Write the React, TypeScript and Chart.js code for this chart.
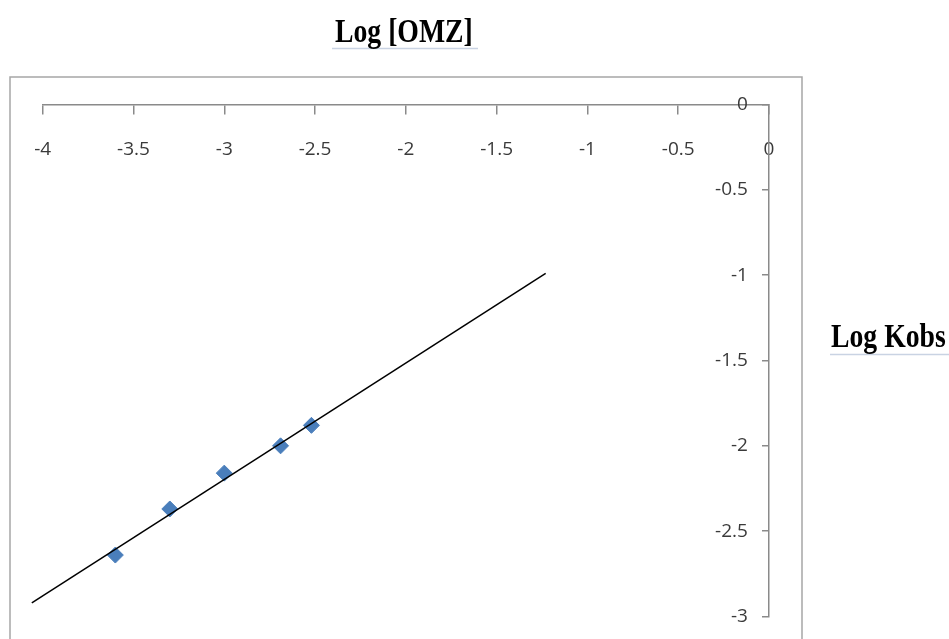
import React, { useEffect, useRef } from 'react';
import { Chart, registerables } from 'chart.js';

Chart.register(...registerables);

// ---- data ----
const logOMZ = [-3.6, -3.3, -3.0, -2.69, -2.52];
const logKobs = [-2.64, -2.37, -2.16, -2.0, -1.88];
const trendX = [-4.06, -1.23];
const trendY = [-2.92, -0.99];
const xTickValues = [-4, -3.5, -3, -2.5, -2, -1.5, -1, -0.5, 0];
const yTickValues = [0, -0.5, -1, -1.5, -2, -2.5, -3];
const xTitle = 'Log [OMZ]';
const yTitle = 'Log Kobs';

const AXIS_COLOR = '#8a8a8a';
const TICK_FONT = { family: '"Open Sans", "Liberation Sans", sans-serif', size: 19 };
const fmt = (v: any) => String(Number(v));
// y labels sit a little left of the y axis (in x-data units)
const Y_LABEL_X = -0.116;

const decorPlugin = {
  id: 'decor',
  beforeDraw(chart: any) {
    const ctx = chart.ctx;
    ctx.save();
    ctx.strokeStyle = '#a6a6a6';
    ctx.lineWidth = 1.5;
    ctx.beginPath();
    ctx.moveTo(10, 660);
    ctx.lineTo(10, 77);
    ctx.lineTo(802, 77);
    ctx.lineTo(802, 660);
    ctx.stroke();
    ctx.restore();
  },
  afterDraw(chart: any) {
    const ctx = chart.ctx;
    const drawTitle = (text: string, x: number, baseline: number, ulY: number, ulX1: number, ulX2: number) => {
      ctx.save();
      ctx.strokeStyle = '#c9d3e3';
      ctx.lineWidth = 1.5;
      ctx.beginPath();
      ctx.moveTo(ulX1, ulY);
      ctx.lineTo(ulX2, ulY);
      ctx.stroke();
      ctx.translate(x, baseline);
      ctx.scale(0.84, 1);
      ctx.font = 'bold 33px "Liberation Serif", "Times New Roman", serif';
      ctx.fillStyle = '#000';
      ctx.textAlign = 'left';
      ctx.textBaseline = 'alphabetic';
      ctx.fillText(text, 0, 0);
      ctx.restore();
    };
    drawTitle(xTitle, 335, 41.5, 48.5, 332, 478);
    drawTitle(yTitle, 831, 346.5, 354.5, 830, 949);
  },
};

export default function App() {
  const ref = useRef<HTMLCanvasElement | null>(null);
  useEffect(() => {
    document.body.style.margin = '0';
    document.body.style.overflow = 'hidden';
    const canvas = ref.current;
    if (!canvas) return;
    const chart = new Chart(canvas, {
      type: 'scatter',
      data: {
        datasets: [
          {
            type: 'line',
            label: 'trend',
            data: trendX.map((x, i) => ({ x, y: trendY[i] })),
            borderColor: '#000',
            borderWidth: 1.5,
            pointRadius: 0,
            showLine: true,
            fill: false,
            clip: false as any,
            yAxisID: 'y',
          } as any,
          {
            label: 'data',
            data: logOMZ.map((x, i) => ({ x, y: logKobs[i] })),
            pointStyle: 'rectRot',
            pointRadius: 8,
            backgroundColor: '#4a7ebb',
            borderColor: '#4a7ebb',
            borderWidth: 1,
            yAxisID: 'y',
          },
        ],
      },
      options: {
        animation: false,
        responsive: false,
        devicePixelRatio: 1,
        layout: { padding: { left: 42.7, top: 104.5, right: 180, bottom: 22.5 } },
        plugins: { legend: { display: false }, tooltip: { enabled: false }, title: { display: false } },
        scales: {
          x: {
            type: 'linear',
            position: { y: 0 } as any,
            min: -4,
            max: 0,
            afterBuildTicks: (axis: any) => {
              axis.ticks = xTickValues.map((v) => ({ value: v }));
            },
            grid: {
              display: true,
              drawOnChartArea: false,
              drawTicks: true,
              tickLength: 9,
              color: AXIS_COLOR,
              lineWidth: 1.5,
            },
            border: { display: true, color: AXIS_COLOR, width: 1.5 },
            ticks: { font: TICK_FONT, color: '#3a3a3a', padding: 25, maxRotation: 0, autoSkip: false, callback: fmt },
          },
          y: {
            type: 'linear',
            position: { x: 0 } as any,
            min: -3,
            max: 0,
            afterBuildTicks: (axis: any) => {
              axis.ticks = yTickValues.map((v) => ({ value: v }));
            },
            grid: {
              display: true,
              drawOnChartArea: false,
              drawTicks: true,
              tickLength: 6,
              color: AXIS_COLOR,
              lineWidth: 1.5,
            },
            border: { display: true, color: AXIS_COLOR, width: 1.5 },
            ticks: { display: false, autoSkip: false },
          },
          yLabels: {
            type: 'linear',
            axis: 'y',
            position: { x: Y_LABEL_X },
            min: -3,
            max: 0,
            afterBuildTicks: (axis: any) => {
              axis.ticks = yTickValues.map((v) => ({ value: v }));
            },
            grid: { display: false, drawTicks: false },
            border: { display: false },
            ticks: { font: TICK_FONT, color: '#3a3a3a', padding: 0, autoSkip: false, callback: fmt },
          } as any,
        },
      },
      plugins: [decorPlugin],
    });
    return () => chart.destroy();
  }, []);
  return (
    <div style={{ width: 949, height: 639, background: '#fff' }}>
      <canvas ref={ref} width={949} height={639} style={{ display: 'block', width: 949, height: 639 }} />
    </div>
  );
}
